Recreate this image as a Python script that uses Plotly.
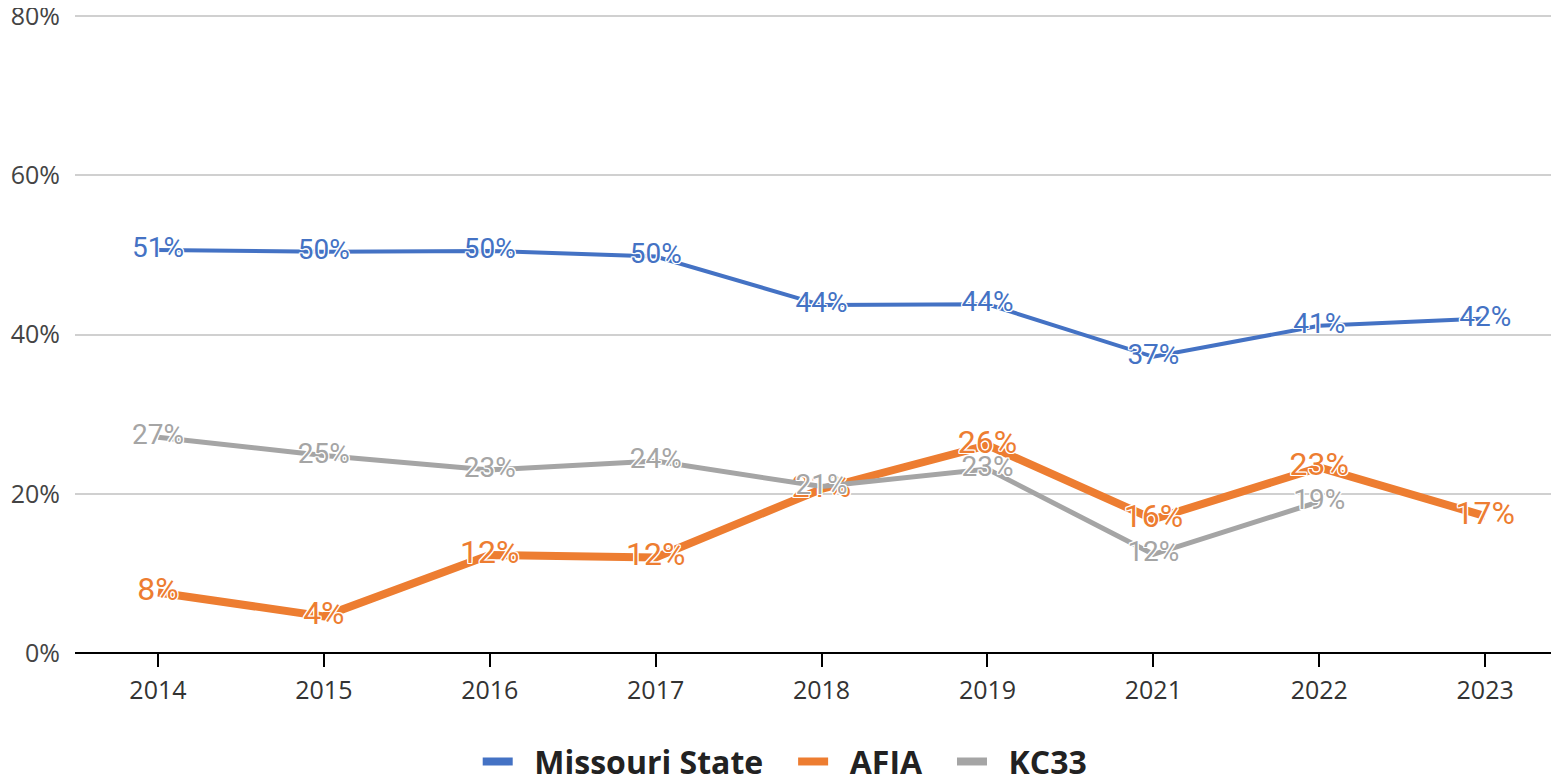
import plotly.graph_objects as go

years = ["2014", "2015", "2016", "2017", "2018", "2019", "2021", "2022", "2023"]
missouri = [51, 50, 50, 50, 44, 44, 37, 41, 42]
missouri_pos = [50.6, 50.4, 50.5, 49.8, 43.7, 43.8, 37.2, 41.1, 42.0]
afia = [8, 4, 12, 12, 21, 26, 16, 23, 17]
afia_pos = [7.6, 4.6, 12.3, 12.0, 20.6, 26.1, 16.8, 23.3, 17.2]
kc33 = [27, 25, 23, 24, 21, 23, 12, 19, None]
kc33_pos = [27.1, 24.8, 23.0, 24.1, 20.9, 23.1, 12.4, 19.0, None]

names = ["Missouri State", "AFIA", "KC33"]
colors = ["#4472C4", "#ED7D31", "#A5A5A5"]

halo = ("white 1px 0 0, white -1px 0 0, white 0 1px 0, white 0 -1px 0, "
        "white 1px 1px 0, white -1px -1px 0, white 1px -1px 0, white -1px 1px 0")


def lbl(vals):
    return [f"{v}%" if v is not None else "" for v in vals]


def frac(vals):
    return [(v / 100 if v is not None else None) for v in vals]


fig = go.Figure()
series = [
    (missouri_pos, missouri, 4, 28),
    (afia_pos, afia, 8, 32),
    (kc33_pos, kc33, 5, 28),
]
for (pos, vals, lw, fs), name, col in zip(series, names, colors):
    fig.add_trace(go.Scatter(x=years, y=frac(pos), name=name, showlegend=False,
                             mode="lines+text", text=lbl(vals), textposition="middle center",
                             line=dict(color=col, width=lw),
                             textfont=dict(family="Roboto", size=fs, color=col, shadow=halo)))

# legend entries (same series, uniform legend line weight)
for name, col in zip(names, colors):
    fig.add_trace(go.Scatter(x=[None], y=[None], mode="lines",
                             name="\u00a0\u00a0" + name + "\u00a0\u00a0\u00a0",
                             line=dict(color=col, width=8), showlegend=True))

fig.update_layout(
    width=1551, height=773,
    margin=dict(l=67, r=0, t=7, b=128),
    paper_bgcolor="white", plot_bgcolor="white",
    showlegend=True,
    legend=dict(orientation="h", x=0.487, xanchor="center",
                yref="container", y=0.025, yanchor="middle",
                font=dict(family="Open Sans", size=32, color="#222222", weight="bold"),
                tracegroupgap=0, bgcolor="rgba(0,0,0,0)"),
    xaxis=dict(type="category", range=[-0.5, 8.445], showgrid=False, automargin=False,
               ticks="outside", ticklen=13, tickcolor="black", tickwidth=2,
               tickfont=dict(family="Open Sans", size=25, color="#333333"),
               ticklabelstandoff=2,
               showline=False, zeroline=False),
    yaxis=dict(range=[0, 0.8013], tickvals=[0, 0.2, 0.4, 0.6, 0.8], tickformat=".0%",
               automargin=False, ticklabeloverflow="allow",
               showgrid=True, gridcolor="#D0D0D0", gridwidth=2,
               zeroline=True, zerolinecolor="black", zerolinewidth=2,
               tickfont=dict(family="Open Sans", size=25, color="#444444"),
               ticklabelstandoff=14, showline=False),
)

fig.write_html("out.html")
